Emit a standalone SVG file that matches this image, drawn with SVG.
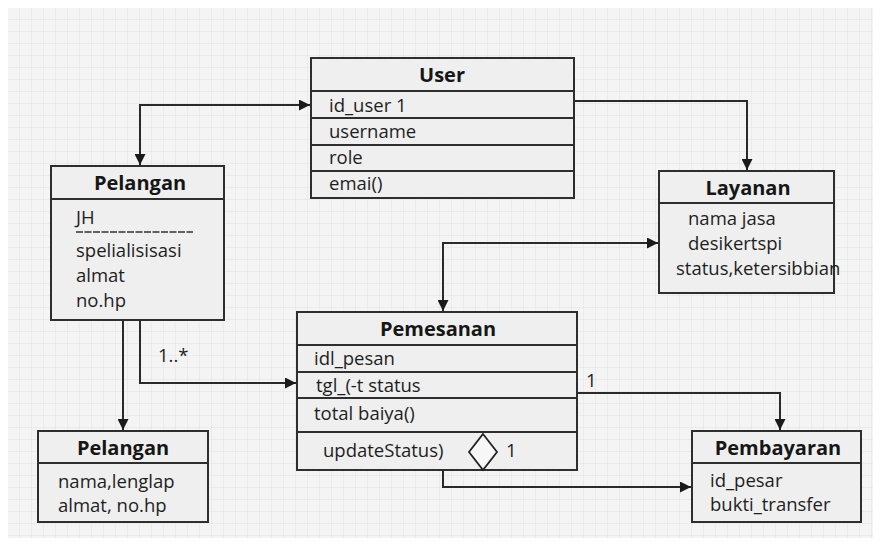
<svg xmlns="http://www.w3.org/2000/svg" width="881" height="546" viewBox="0 0 881 546">
  <defs>
    <pattern id="grid" width="12" height="12" patternUnits="userSpaceOnUse" x="8" y="8">
      <path d="M12 0V12M0 12H12" fill="none" stroke="#dedede" stroke-width="0.8"/>
    </pattern>
    <marker id="arr" viewBox="0 0 10 10" refX="10" refY="5" markerWidth="11" markerHeight="11" markerUnits="userSpaceOnUse" orient="auto-start-reverse">
      <path d="M0,0L10,5L0,10z" fill="#1a1a1a"/>
    </marker>
  </defs>
  <style>
    .box { fill: #efefef; stroke: #2e2e2e; stroke-width: 2; }
    .sep { stroke: #2e2e2e; stroke-width: 2; }
    .title { font-family: "Open Sans", "Noto Sans", sans-serif; font-weight: bold; font-size: 20px; fill: #161616; text-anchor: middle; }
    .txt { font-family: "Open Sans", "Noto Sans", sans-serif; font-size: 18.5px; fill: #1e1e1e; }
    .con { fill: none; stroke: #2a2a2a; stroke-width: 2; }
  </style>

  <!-- canvas -->
  <rect width="881" height="546" fill="#ffffff"/>
  <rect x="8" y="8" width="865" height="530" fill="#f4f4f4"/>
  <rect x="8" y="8" width="865" height="530" fill="url(#grid)"/>

  <!-- connectors -->
  <g id="connectors">
    <path class="con" d="M140,165V105H310" marker-start="url(#arr)" marker-end="url(#arr)"/>
    <path class="con" d="M575,101H747V170" marker-end="url(#arr)"/>
    <path class="con" d="M443,311V243H658" marker-start="url(#arr)" marker-end="url(#arr)"/>
    <path class="con" d="M123,321V430" marker-end="url(#arr)"/>
    <path class="con" d="M140,321V383H296" marker-end="url(#arr)"/>
    <path class="con" d="M578,393H780V430" marker-end="url(#arr)"/>
    <path class="con" d="M443,471V487H691" marker-end="url(#arr)"/>
    <text class="txt" x="158" y="362">1..*</text>
    <text class="txt" x="586" y="387">1</text>
  </g>

  <!-- User -->
  <g id="user">
    <rect class="box" x="311" y="58" width="263" height="140"/>
    <line class="sep" x1="311" y1="91" x2="574" y2="91"/>
    <line class="sep" x1="311" y1="118" x2="574" y2="118"/>
    <line class="sep" x1="311" y1="145" x2="574" y2="145"/>
    <line class="sep" x1="311" y1="171" x2="574" y2="171"/>
    <text class="title" x="442" y="82">User</text>
    <text class="txt" x="329" y="112">id_user 1</text>
    <text class="txt" x="329" y="138">username</text>
    <text class="txt" x="329" y="164">role</text>
    <text class="txt" x="329" y="190">emai()</text>
  </g>

  <!-- Pelangan (top) -->
  <g id="pelangan-1">
    <rect class="box" x="51" y="166" width="173" height="154"/>
    <line class="sep" x1="51" y1="199" x2="224" y2="199"/>
    <text class="title" x="140" y="190">Pelangan</text>
    <text class="txt" x="76" y="224">JH</text>
    <line x1="76" y1="232" x2="193" y2="232" stroke="#333" stroke-width="1.3" stroke-dasharray="7,1.5"/>
    <text class="txt" x="76" y="257">spelialisisasi</text>
    <text class="txt" x="76" y="282">almat</text>
    <text class="txt" x="76" y="307">no.hp</text>
  </g>

  <!-- Layanan -->
  <g id="layanan">
    <rect class="box" x="659" y="171" width="175" height="122"/>
    <line class="sep" x1="659" y1="203" x2="834" y2="203"/>
    <text class="title" x="748" y="195">Layanan</text>
    <text class="txt" x="688" y="225">nama jasa</text>
    <text class="txt" x="688" y="250">desikertspi</text>
    <text class="txt" x="676" y="275">status,ketersibbian</text>
  </g>

  <!-- Pemesanan -->
  <g id="pemesanan">
    <rect class="box" x="297" y="312" width="280" height="158"/>
    <line class="sep" x1="297" y1="345" x2="577" y2="345"/>
    <line class="sep" x1="297" y1="372" x2="577" y2="372"/>
    <line class="sep" x1="297" y1="398" x2="577" y2="398"/>
    <line class="sep" x1="297" y1="432" x2="577" y2="432"/>
    <text class="title" x="438" y="336">Pemesanan</text>
    <text class="txt" x="314" y="365">idl_pesan</text>
    <text class="txt" x="316" y="392">tgl_(-t status</text>
    <text class="txt" x="314" y="420">total baiya()</text>
    <text class="txt" x="323" y="457">updateStatus)</text>
    <path d="M483,434L497,452L483,470L469,452z" fill="#f7f7f7" stroke="#222" stroke-width="1.8"/>
    <text class="txt" x="506" y="457">1</text>
  </g>

  <!-- Pelangan (bottom) -->
  <g id="pelangan-2">
    <rect class="box" x="38" y="431" width="170" height="91"/>
    <line class="sep" x1="38" y1="463" x2="208" y2="463"/>
    <text class="title" x="123" y="455">Pelangan</text>
    <text class="txt" x="58" y="488">nama,lenglap</text>
    <text class="txt" x="58" y="512">almat, no.hp</text>
  </g>

  <!-- Pembayaran -->
  <g id="pembayaran">
    <rect class="box" x="692" y="431" width="169" height="91"/>
    <line class="sep" x1="692" y1="463" x2="861" y2="463"/>
    <text class="title" x="778" y="455">Pembayaran</text>
    <text class="txt" x="710" y="487">id_pesar</text>
    <text class="txt" x="710" y="511">bukti_transfer</text>
  </g>
</svg>
